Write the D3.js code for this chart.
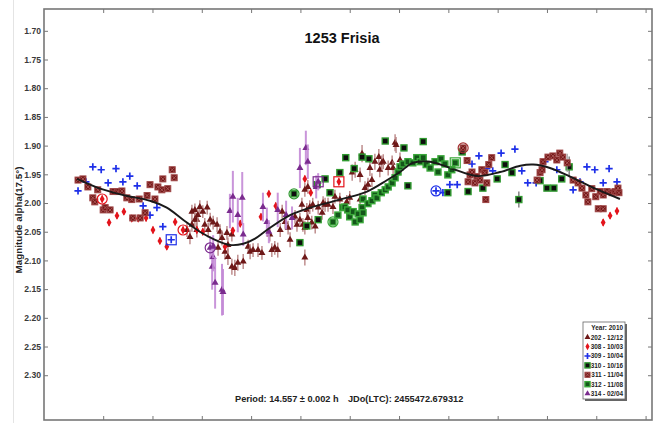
<!DOCTYPE html>
<html>
<head>
<meta charset="utf-8">
<script src="https://cdn.jsdelivr.net/npm/d3@7"></script>
<style>
  body { margin: 0; background: #fff; }
  svg { display: block; font-family: "Liberation Sans", Arial, sans-serif; }
</style>
</head>
<body>
<svg id="chart" width="657" height="423"></svg>
<script>
// ---- chart text ----
const titleText = "1253 Frisia";
const yAxisTitle = "Magnitude alpha(17.5°)";
const periodText = "Period: 14.557 ± 0.002 h";
const epochText = "JDo(LTC): 2455472.679312";
const legendYear = "Year: 2010";

// ---- axes ----
const yTicks = [1.70, 1.75, 1.80, 1.85, 1.90, 1.95, 2.00, 2.05, 2.10, 2.15, 2.20, 2.25, 2.30];
const xTicks = [0, 0.1, 0.2, 0.3, 0.4, 0.5, 0.6, 0.7, 0.8, 0.9, 1.0, 1.1];

// ---- sessions (legend order) ----
const sessionKeys = ["202", "308", "309", "310", "311", "312", "314"];
const sessionLabels = ["202 - 12/12", "308 - 10/03", "309 - 10/04", "310 - 10/16", "311 - 11/04", "312 - 11/08", "314 - 02/04"];

// ---- observations: [phase, magnitude, error] ----
const s202 = [[0.170,2.047,0.012],[0.176,2.059,0.013],[0.180,2.015,0.012],[0.180,2.038,0.012],[0.186,2.012,0.011],[0.186,2.029,0.012],[0.190,2.047,0.013],[0.190,2.029,0.012],[0.192,2.021,0.012],[0.196,2.007,0.012],[0.202,2.015,0.011],[0.206,2.038,0.012],[0.211,2.008,0.012],[0.213,2.047,0.013],[0.217,2.029,0.012],[0.223,2.034,0.012],[0.231,2.038,0.013],[0.233,2.078,0.014],[0.237,2.050,0.013],[0.241,2.061,0.013],[0.247,2.085,0.014],[0.251,2.052,0.012],[0.253,2.073,0.013],[0.253,2.094,0.014],[0.261,2.055,0.012],[0.261,2.111,0.014],[0.267,2.113,0.014],[0.273,2.104,0.014],[0.284,2.102,0.013],[0.294,2.076,0.012],[0.298,2.085,0.013],[0.304,2.082,0.012],[0.314,2.082,0.012],[0.322,2.087,0.012],[0.338,2.055,0.012],[0.342,2.082,0.012],[0.348,2.078,0.012],[0.354,2.082,0.013],[0.359,2.047,0.012],[0.363,2.015,0.012],[0.369,2.033,0.012],[0.375,2.043,0.012],[0.379,2.064,0.013],[0.389,2.024,0.012],[0.393,2.038,0.012],[0.399,2.029,0.012],[0.403,2.003,0.012],[0.405,2.038,0.012],[0.409,2.043,0.012],[0.409,2.095,0.014],[0.409,1.977,0.012],[0.413,2.012,0.012],[0.415,2.026,0.012],[0.415,1.972,0.012],[0.419,2.007,0.012],[0.423,2.034,0.012],[0.425,2.003,0.012],[0.430,2.041,0.012],[0.436,2.008,0.012],[0.444,2.017,0.012],[0.446,2.000,0.012],[0.450,2.003,0.012],[0.456,2.003,0.012],[0.466,2.007,0.012],[0.470,1.989,0.012],[0.480,1.994,0.012],[0.494,1.998,0.012],[0.500,1.991,0.012],[0.505,1.947,0.014],[0.511,1.942,0.014],[0.521,1.951,0.013],[0.521,1.994,0.012],[0.525,1.914,0.015],[0.531,1.974,0.012],[0.537,1.968,0.012],[0.541,1.939,0.014],[0.545,1.960,0.012],[0.551,1.928,0.014],[0.559,1.920,0.014],[0.561,1.942,0.013],[0.565,1.930,0.013],[0.568,1.928,0.013],[0.578,1.939,0.013],[0.586,1.930,0.013],[0.588,1.939,0.012],[0.592,1.895,0.015],[0.594,1.899,0.014],[0.602,1.925,0.013]];

const s308 = [[-0.002,1.993,0.006],[0.012,2.034,0.006],[0.028,2.022,0.006],[0.042,2.015,0.006],[0.058,2.027,0.006],[0.071,2.027,0.006],[0.087,2.026,0.006],[0.101,2.047,0.006],[0.115,2.066,0.006],[0.129,2.076,0.006],[0.146,2.033,0.006],[0.162,2.047,0.006],[0.190,2.047,0.006],[0.202,2.050,0.006],[0.247,2.076,0.006],[0.263,2.048,0.006],[0.278,2.036,0.006],[0.320,2.024,0.006],[0.336,1.984,0.006],[0.350,2.005,0.006],[0.409,1.958,0.006],[0.421,1.982,0.006],[0.478,1.963,0.006],[1.014,2.034,0.006],[1.028,2.022,0.006],[1.042,2.014,0.006]];

const s309 = [[-0.051,1.979,0],[-0.035,1.963,0],[-0.021,1.937,0],[-0.004,1.942,0],[0.010,1.965,0],[0.026,1.940,0],[0.040,1.963,0],[0.054,1.953,0],[0.069,1.970,0],[0.081,2.005,0],[0.095,2.021,0],[0.109,2.008,0],[0.121,2.041,0],[0.138,2.064,0],[0.675,1.979,0],[0.689,1.982,0],[0.703,1.968,0],[0.718,1.968,0],[0.748,1.932,0],[0.762,1.918,0],[0.778,1.940,0],[0.790,1.944,0],[0.807,1.913,0],[0.835,1.906,0],[0.849,1.944,0],[0.861,1.965,0],[0.878,1.965,0],[0.896,1.928,0],[0.920,1.942,0],[0.953,1.977,0],[0.967,1.963,0],[0.981,1.937,0],[0.997,1.942,0],[1.014,1.965,0],[1.026,1.940,0],[1.042,1.963,0]];

const s310 = [[0.387,1.984,0],[0.399,2.069,0],[0.413,2.040,0],[0.434,1.968,0],[0.436,2.029,0],[0.450,1.958,0],[0.460,1.982,0],[0.480,1.947,0],[0.492,1.921,0],[0.509,1.940,0],[0.525,1.920,0],[0.539,1.923,0],[0.572,1.892,0],[0.610,1.904,0],[0.618,1.970,0],[0.649,1.893,0],[0.699,1.982,0],[0.728,1.911,0],[0.740,1.980,0],[0.770,1.974,0],[0.799,1.958,0],[0.815,1.933,0],[0.829,1.947,0],[0.843,1.994,0.014],[0.886,1.961,0],[0.900,1.974,0],[0.914,1.974,0],[0.930,1.958,0],[0.945,1.937,0.018]];

const s311 = [[-0.051,1.960,0],[-0.041,1.958,0],[-0.031,1.972,0],[-0.021,1.991,0],[-0.017,1.998,0],[-0.011,1.977,0],[0.000,2.012,0],[0.004,2.008,0],[0.014,2.012,0],[0.020,1.980,0],[0.030,1.980,0],[0.038,1.979,0],[0.048,1.991,0],[0.058,1.994,0],[0.060,2.026,0],[0.073,1.993,0],[0.075,2.026,0],[0.085,2.017,0],[0.089,1.987,0],[0.095,1.968,0],[0.105,1.993,0],[0.111,1.972,0],[0.119,1.977,0],[0.121,1.958,0],[0.131,1.975,0],[0.140,1.942,0],[0.144,1.956,0],[0.730,1.904,0],[0.738,1.926,0],[0.740,1.963,0],[0.744,1.951,0],[0.748,1.946,0],[0.754,1.965,0],[0.758,1.954,0],[0.764,1.960,0],[0.768,1.942,0],[0.774,1.947,0],[0.776,1.994,0],[0.778,1.965,0],[0.782,1.933,0],[0.788,1.921,0],[0.880,1.960,0],[0.886,1.947,0],[0.890,1.942,0],[0.892,1.928,0],[0.902,1.920,0],[0.912,1.918,0],[0.920,1.925,0],[0.926,1.913,0],[0.932,1.920,0],[0.941,1.930,0.016],[0.953,1.960,0],[0.963,1.965,0],[0.971,1.974,0],[0.979,1.986,0],[0.983,1.998,0],[0.991,1.975,0],[0.999,1.989,0],[1.004,2.010,0],[1.008,1.980,0],[1.014,1.986,0],[1.014,2.010,0],[1.022,1.980,0],[1.032,1.982,0],[1.038,1.980,0],[1.044,1.974,0],[1.046,1.982,0]];

const s312 = [[0.466,2.033,0],[0.476,2.021,0],[0.486,2.008,0],[0.490,2.007,0],[0.496,2.012,0],[0.500,2.024,0],[0.507,2.015,0],[0.511,2.033,0],[0.517,2.019,0],[0.521,2.029,0],[0.525,2.008,0],[0.527,1.993,0],[0.527,2.017,0],[0.537,2.001,0],[0.545,1.996,0],[0.551,1.986,0],[0.555,1.991,0],[0.564,1.982,0],[0.572,1.977,0],[0.578,1.972,0],[0.586,1.965,0],[0.592,1.956,0],[0.598,1.946,0],[0.602,1.937,0],[0.608,1.932,0],[0.618,1.928,0],[0.628,1.930,0],[0.636,1.921,0],[0.643,1.928,0],[0.649,1.921,0],[0.655,1.933,0],[0.663,1.939,0],[0.673,1.928,0],[0.679,1.946,0],[0.685,1.923,0],[0.693,1.932,0],[0.699,1.951,0],[0.707,1.942,0],[0.714,1.930,0]];

const s314 = [[0.217,2.078,0.020],[0.221,2.111,0.040],[0.223,2.094,0.025],[0.223,2.076,0.020],[0.227,2.139,0.045],[0.241,2.151,0.045],[0.243,2.155,0.040],[0.257,2.014,0.030],[0.263,1.989,0.045],[0.273,2.021,0.030],[0.282,1.991,0.045],[0.284,2.055,0.020],[0.324,2.007,0.025],[0.332,2.033,0.025],[0.336,2.050,0.020],[0.354,2.012,0.030],[0.371,2.021,0.025],[0.383,2.026,0.020],[0.399,1.939,0.035],[0.411,1.904,0.030],[0.415,1.928,0.030],[0.432,1.972,0.020],[0.436,1.963,0.015]];

// first point of each night, flagged with an outline: [session, phase, magnitude, outline]
const firstPoints = [["308",-0.002,1.993,"circle"],["308",0.162,2.047,"circle"],["309",0.138,2.064,"square"],["314",0.217,2.078,"circle"],["310",0.387,1.984,"circle"],["314",0.436,1.963,"square"],["312",0.466,2.033,"circle"],["308",0.478,1.963,"square"],["309",0.675,1.979,"circle"],["312",0.714,1.930,"square"],["311",0.730,1.904,"circle"]];

// Fourier fit of the composite lightcurve: [phase, magnitude]
const fitCurve = [[-0.053,1.958],[-0.006,1.975],[0.040,1.986],[0.095,1.996],[0.129,2.008],[0.162,2.029],[0.196,2.050],[0.227,2.064],[0.257,2.073],[0.284,2.071],[0.308,2.062],[0.332,2.047],[0.379,2.021],[0.420,2.008],[0.480,1.994],[0.535,1.980],[0.576,1.960],[0.602,1.946],[0.628,1.930],[0.663,1.928],[0.704,1.939],[0.758,1.953],[0.805,1.946],[0.846,1.935],[0.872,1.933],[0.906,1.939],[0.947,1.954],[0.998,1.975],[1.048,1.993]];

const seriesData = { "202": s202, "308": s308, "309": s309, "310": s310, "311": s311, "312": s312, "314": s314 };

// ---- styling per session ----
const style = {
  "202": { shape: "triangle", fill: "#6e1818", bar: "#b88282", barW: 1.5 },
  "308": { shape: "diamond",  fill: "#e3141c", bar: "#e3141c", barW: 1.2 },
  "309": { shape: "plus",     fill: "#1d2fe8", bar: "#1d2fe8", barW: 1 },
  "310": { shape: "gsquare",  fill: "#0e0e0e", stroke: "#2f9a2f", bar: "#555", barW: 1.2 },
  "311": { shape: "xsquare",  fill: "#741616", stroke: "#a04848", bar: "#999", barW: 1.2 },
  "312": { shape: "gsquare",  fill: "#14561a", stroke: "#3aa83a", bar: "#555", barW: 1.2 },
  "314": { shape: "triangle", fill: "#7a2b8e", bar: "#c48ad6", barW: 2 }
};

const svg = d3.select("#chart");
const plot = { left: 44, right: 652, top: 9, bottom: 420 };

const x = d3.scaleLinear().domain([-0.12, 1.113]).range([plot.left, plot.right]);
const y = d3.scaleLinear().domain([1.662, 2.378]).range([plot.top, plot.bottom]);

// faint page border at left
svg.append("line").attr("x1", 13.5).attr("x2", 13.5).attr("y1", 0).attr("y2", 423)
  .attr("stroke", "#e4e4e4").attr("stroke-width", 1);

// ---- axes (ticks point inward) ----
const gLeft = svg.append("g").attr("transform", `translate(${plot.left},0)`)
  .call(d3.axisLeft(y).tickValues(yTicks).tickFormat(d3.format(".2f"))
    .tickSizeInner(-4).tickSizeOuter(0).tickPadding(3));
const gRight = svg.append("g").attr("transform", `translate(${plot.right},0)`)
  .call(d3.axisRight(y).tickValues(yTicks).tickFormat("").tickSizeInner(-4).tickSizeOuter(0));
const gTop = svg.append("g").attr("transform", `translate(0,${plot.top})`)
  .call(d3.axisTop(x).tickValues(xTicks).tickFormat("").tickSizeInner(-4).tickSizeOuter(0));
const gBottom = svg.append("g").attr("transform", `translate(0,${plot.bottom})`)
  .call(d3.axisBottom(x).tickValues(xTicks).tickFormat("").tickSizeInner(-4).tickSizeOuter(0));

[gLeft, gRight, gTop, gBottom].forEach(g => {
  g.select(".domain").remove();
  g.selectAll(".tick line").attr("stroke", "#777").attr("stroke-width", 1);
});
gLeft.selectAll(".tick text")
  .attr("fill", "#3a3a3a").attr("font-size", "8.6px").attr("font-weight", "bold")
  .attr("font-family", "'Liberation Sans', Arial, sans-serif");

// plot frame
svg.append("rect")
  .attr("x", plot.left).attr("y", plot.top)
  .attr("width", plot.right - plot.left).attr("height", plot.bottom - plot.top)
  .attr("fill", "none").attr("stroke", "#777").attr("stroke-width", 1.6);

// ---- marker drawing ----
const triPath = d3.symbol(d3.symbolTriangle, 21)();
const diaPath = d3.symbol(d3.symbolDiamond, 20)();

function drawMarker(g, key, size) {
  const st = style[key];
  const s = size || 1;
  if (st.shape === "triangle") {
    g.append("path").attr("d", triPath).attr("fill", st.fill)
      .attr("transform", `scale(${s})`);
  } else if (st.shape === "diamond") {
    g.append("path").attr("d", diaPath).attr("fill", st.fill)
      .attr("transform", `scale(${s})`);
  } else if (st.shape === "plus") {
    const r = 3.6 * s;
    g.append("path").attr("d", `M${-r},0H${r}M0,${-r}V${r}`)
      .attr("stroke", st.fill).attr("stroke-width", 1.7).attr("fill", "none");
  } else if (st.shape === "gsquare") {
    const h = 3 * s;
    g.append("rect").attr("x", -h).attr("y", -h).attr("width", 2 * h).attr("height", 2 * h)
      .attr("fill", st.fill).attr("stroke", st.stroke).attr("stroke-width", 1.4);
  } else if (st.shape === "xsquare") {
    const h = 3 * s;
    g.append("rect").attr("x", -h).attr("y", -h).attr("width", 2 * h).attr("height", 2 * h)
      .attr("fill", st.fill).attr("stroke", st.stroke).attr("stroke-width", 1);
    const k = h * 0.7;
    g.append("path").attr("d", `M${-k},${-k}L${k},${k}M${-k},${k}L${k},${-k}`)
      .attr("stroke", "#b86e6e").attr("stroke-width", 0.7);
  }
}

// ---- data series ----
const gData = svg.append("g");
sessionKeys.forEach(key => {
  const st = style[key];
  const gs = gData.append("g").attr("class", "series-" + key);
  seriesData[key].forEach(d => {
    const px = x(d[0]), py = y(d[1]);
    if (d[2] > 0) {
      gs.append("line")
        .attr("x1", px).attr("x2", px)
        .attr("y1", y(d[1] - d[2])).attr("y2", y(d[1] + d[2]))
        .attr("stroke", st.bar).attr("stroke-width", st.barW).attr("opacity", 0.9);
    }
    const g = gs.append("g").attr("transform", `translate(${px},${py})`);
    drawMarker(g, key);
  });
});

// ---- fitted curve ----
svg.append("path")
  .datum(fitCurve)
  .attr("d", d3.line().x(d => x(d[0])).y(d => y(d[1])).curve(d3.curveCatmullRom.alpha(0.5)))
  .attr("fill", "none").attr("stroke", "#1a1a1a").attr("stroke-width", 1.9);

// ---- outlines on each night's first point ----
firstPoints.forEach(d => {
  const col = style[d[0]].shape === "gsquare" ? style[d[0]].stroke :
              (d[0] === "311" ? "#a33030" : style[d[0]].fill);
  const px = x(d[1]), py = y(d[2]);
  if (d[3] === "circle") {
    svg.append("circle").attr("cx", px).attr("cy", py).attr("r", 5)
      .attr("fill", "none").attr("stroke", col).attr("stroke-width", 1.2);
  } else {
    svg.append("rect").attr("x", px - 5).attr("y", py - 5).attr("width", 10).attr("height", 10)
      .attr("fill", "none").attr("stroke", col).attr("stroke-width", 1.2);
  }
});

// ---- title and captions ----
svg.append("text").attr("x", 342).attr("y", 43).attr("text-anchor", "middle")
  .attr("font-size", "14.5px").attr("font-weight", "bold").attr("fill", "#111")
  .text(titleText);

svg.append("text").attr("transform", "translate(22,220) rotate(-90)")
  .attr("text-anchor", "middle").attr("font-size", "9.8px").attr("font-weight", "bold")
  .attr("fill", "#222").text(yAxisTitle);

svg.append("text").attr("x", 235).attr("y", 402).attr("font-size", "9.2px")
  .attr("font-weight", "bold").attr("fill", "#222").text(periodText);
svg.append("text").attr("x", 348).attr("y", 402).attr("font-size", "9.2px")
  .attr("font-weight", "bold").attr("fill", "#222").text(epochText);

// ---- legend ----
const lg = { x: 583, y: 322, w: 42, h: 77 };
svg.append("rect").attr("x", lg.x + 2).attr("y", lg.y + 2).attr("width", lg.w).attr("height", lg.h)
  .attr("fill", "#666");
svg.append("rect").attr("x", lg.x).attr("y", lg.y).attr("width", lg.w).attr("height", lg.h)
  .attr("fill", "#fff").attr("stroke", "#666").attr("stroke-width", 0.8);

const rowH = 9.4;
svg.append("text").attr("x", lg.x + lg.w - 2).attr("y", lg.y + 8)
  .attr("text-anchor", "end").attr("font-size", "6.4px").attr("font-weight", "bold")
  .attr("fill", "#222").text(legendYear);

sessionKeys.forEach((key, i) => {
  const cy = lg.y + 8 + (i + 1) * rowH - 2.2;
  const g = svg.append("g").attr("transform", `translate(${lg.x + 4.5},${cy})`);
  drawMarker(g, key, 0.85);
  svg.append("text").attr("x", lg.x + lg.w - 2).attr("y", cy + 2.3)
    .attr("text-anchor", "end").attr("font-size", "6.4px").attr("font-weight", "bold")
    .attr("fill", "#222").text(sessionLabels[i]);
});
</script>
</body>
</html>
